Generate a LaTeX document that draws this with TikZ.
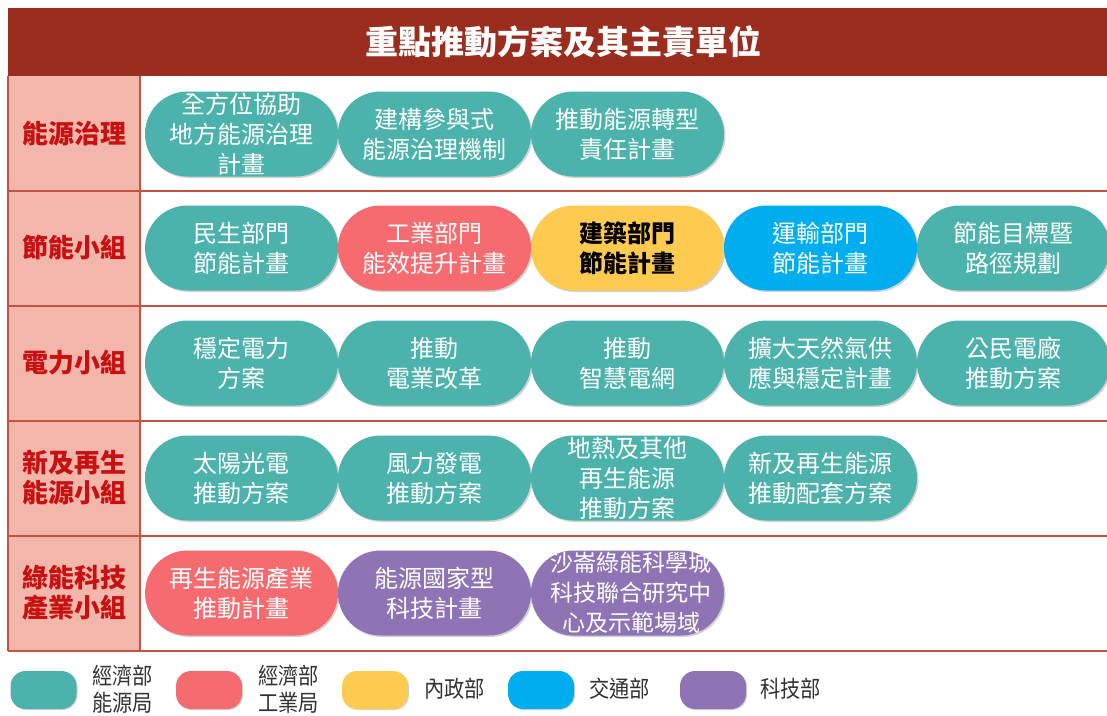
\documentclass[tikz,border=0pt]{standalone}
\usepackage{fontspec}
\setmainfont{Noto Sans CJK TC}
\newfontfamily\legfont[FakeStretch=0.88]{Noto Sans CJK TC}
\usetikzlibrary{shapes.misc,shadows}
\definecolor{hdr}{RGB}{155,45,30}
\definecolor{pinkcol}{RGB}{242,182,170}
\definecolor{bord}{RGB}{196,82,62}
\definecolor{lblred}{RGB}{200,16,16}
\definecolor{cteal}{RGB}{75,178,172}
\definecolor{cred}{RGB}{245,107,112}
\definecolor{cyel}{RGB}{255,202,80}
\definecolor{cblue}{RGB}{0,174,239}
\definecolor{cpurp}{RGB}{142,116,180}
\definecolor{legtxt}{RGB}{50,50,50}
\tikzset{
  pill/.style={rounded rectangle, fill=#1, minimum width=193pt, minimum height=85pt, inner sep=0pt,
    drop shadow={shadow xshift=1.5pt, shadow yshift=-1.5pt, opacity=.35}},
  ptext/.style={text=white, align=center, font=\fontsize{24}{30}\selectfont},
  ytext/.style={text=black, align=center, font=\bfseries\fontsize{24}{30}\selectfont},
  rowlbl/.style={text=lblred, align=center, font=\bfseries\fontsize{26}{30}\selectfont},
  legpill/.style={rounded corners=15pt, fill=#1, minimum width=66pt, minimum height=38pt, inner sep=0pt,
    drop shadow={shadow xshift=1pt, shadow yshift=-1pt, opacity=.35}},
  legtext/.style={text=legtxt, align=left, anchor=west, inner sep=0pt, font=\legfont\fontsize{23}{27}\selectfont},
  rule/.style={draw=bord, line width=2pt}
}
\begin{document}
\begin{tikzpicture}[x=1pt,y=-1pt]
\useasboundingbox[fill=white] (0,0) rectangle (1107,715);
% header
\fill[hdr] (8,8) rectangle (1107,76);
\node[text=white, font=\bfseries\fontsize{33}{36}\selectfont] (title) at (563,42) {重點推動方案及其主責單位};
% left column
\fill[pinkcol] (8,76) rectangle (140,651);
\foreach \yy in {191,306,421,536,651} { \draw[rule] (8,\yy) -- (1107,\yy); }
\draw[rule] (8,76) -- (8,651);
\draw[rule] (140,76) -- (140,651);
% row labels
\node[rowlbl] (r1) at (74,134) {能源治理};
\node[rowlbl] (r2) at (74,248) {節能小組};
\node[rowlbl] (r3) at (74,363) {電力小組};
\node[rowlbl] (r4) at (74,478) {新及再生\\能源小組};
\node[rowlbl] (r5) at (74,593) {綠能科技\\產業小組};
% row 1
\node[pill=cteal] (p11) at (241.5,134) {};
\node[ptext] (t11) at (p11) {全方位協助\\地方能源治理\\計畫};
\node[pill=cteal] (p12) at (434.5,134) {};
\node[ptext] (t12) at (p12) {建構參與式\\能源治理機制};
\node[pill=cteal] (p13) at (627.5,134) {};
\node[ptext] (t13) at (p13) {推動能源轉型\\責任計畫};
% row 2
\node[pill=cteal] (p21) at (241.5,248) {};
\node[ptext] (t21) at (p21) {民生部門\\節能計畫};
\node[pill=cred] (p22) at (434.5,248) {};
\node[ptext] (t22) at (p22) {工業部門\\能效提升計畫};
\node[pill=cyel] (p23) at (627.5,248) {};
\node[ytext] (t23) at (p23) {建築部門\\節能計畫};
\node[pill=cblue] (p24) at (820.5,248) {};
\node[ptext] (t24) at (p24) {運輸部門\\節能計畫};
\node[pill=cteal] (p25) at (1013.5,248) {};
\node[ptext] (t25) at (p25) {節能目標暨\\路徑規劃};
% row 3
\node[pill=cteal] (p31) at (241.5,363) {};
\node[ptext] (t31) at (p31) {穩定電力\\方案};
\node[pill=cteal] (p32) at (434.5,363) {};
\node[ptext] (t32) at (p32) {推動\\電業改革};
\node[pill=cteal] (p33) at (627.5,363) {};
\node[ptext] (t33) at (p33) {推動\\智慧電網};
\node[pill=cteal] (p34) at (820.5,363) {};
\node[ptext] (t34) at (p34) {擴大天然氣供\\應與穩定計畫};
\node[pill=cteal] (p35) at (1013.5,363) {};
\node[ptext] (t35) at (p35) {公民電廠\\推動方案};
% row 4
\node[pill=cteal] (p41) at (241.5,478) {};
\node[ptext] (t41) at (p41) {太陽光電\\推動方案};
\node[pill=cteal] (p42) at (434.5,478) {};
\node[ptext] (t42) at (p42) {風力發電\\推動方案};
\node[pill=cteal] (p43) at (627.5,478) {};
\node[ptext] (t43) at (p43) {地熱及其他\\再生能源\\推動方案};
\node[pill=cteal] (p44) at (820.5,478) {};
\node[ptext] (t44) at (p44) {新及再生能源\\推動配套方案};
% row 5
\node[pill=cred] (p51) at (241.5,593) {};
\node[ptext] (t51) at (p51) {再生能源產業\\推動計畫};
\node[pill=cpurp] (p52) at (434.5,593) {};
\node[ptext] (t52) at (p52) {能源國家型\\科技計畫};
\node[pill=cpurp] (p53) at (627.5,593) {};
\node[ptext, font=\fontsize{23}{30}\selectfont] (t53) at (631,593) {沙崙綠能科學城\\科技聯合研究中\\心及示範場域};
% legend
\node[legpill=cteal] (l1) at (43.5,690) {};
\node[legtext] (lt1) at (92,689) {經濟部\\能源局};
\node[legpill=cred] (l2) at (209,690) {};
\node[legtext] (lt2) at (258,689) {經濟部\\工業局};
\node[legpill=cyel] (l3) at (375,690) {};
\node[legtext] (lt3) at (424,689) {內政部};
\node[legpill=cblue] (l4) at (541,690) {};
\node[legtext] (lt4) at (589,689) {交通部};
\node[legpill=cpurp] (l5) at (713,690) {};
\node[legtext] (lt5) at (760,689) {科技部};
\end{tikzpicture}
\end{document}
